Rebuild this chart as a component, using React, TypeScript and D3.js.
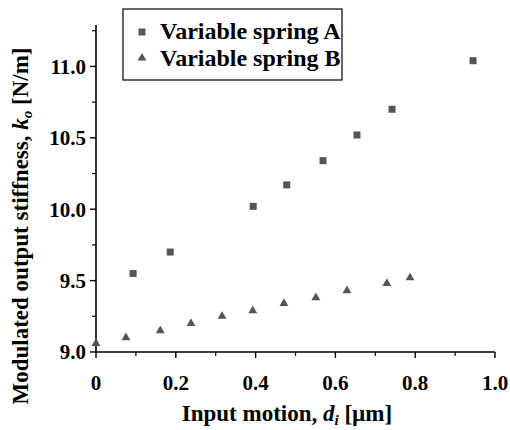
import React from "react";
import * as d3 from "d3";

const seriesNames = ["Variable spring A", "Variable spring B"];
const springAX = [0.093, 0.186, 0.394, 0.478, 0.569, 0.654, 0.742, 0.945];
const springAY = [9.55, 9.70, 10.02, 10.17, 10.34, 10.52, 10.70, 11.04];
const springBX = [0.0, 0.075, 0.161, 0.238, 0.316, 0.393, 0.471, 0.551, 0.629, 0.729, 0.787];
const springBY = [9.06, 9.10, 9.15, 9.20, 9.25, 9.29, 9.34, 9.38, 9.43, 9.48, 9.52];
const xTicks = [0, 0.2, 0.4, 0.6, 0.8, 1.0];
const xTickLabels = ["0", "0.2", "0.4", "0.6", "0.8", "1.0"];
const xMinor = [0.1, 0.3, 0.5, 0.7, 0.9];
const yTicks = [9.0, 9.5, 10.0, 10.5, 11.0];
const yTickLabels = ["9.0", "9.5", "10.0", "10.5", "11.0"];
const yMinor = [9.25, 9.75, 10.25, 10.75, 11.25];

const TXT = { fontFamily: '"Liberation Serif"' };

export default function App() {
  const x = d3.scaleLinear().domain([0, 1]).range([96, 495]);
  const y = d3.scaleLinear().domain([9, 11.29]).range([352, 25]);
  const markFill = "#555";
  const tri = d3.symbol().type(d3.symbolTriangle).size(34)();
  const sq = 7;

  return (
    <svg width={510} height={430} style={{ position: "absolute", left: 0, top: 0, background: "#fff" }}>
      {/* axes */}
      <line x1={x(0)} x2={x(0)} y1={y(11.29)} y2={y(9)} stroke="#000" strokeWidth={1.6} />
      <line x1={x(0)} x2={x(1)} y1={y(9)} y2={y(9)} stroke="#000" strokeWidth={1.6} />
      {yTicks.map((t, i) => (
        <g key={"yt" + i}>
          <line x1={x(0) - 6} x2={x(0)} y1={y(t)} y2={y(t)} stroke="#000" strokeWidth={1.4} />
          <text x={x(0) - 10} y={y(t)} dy="0.35em" textAnchor="end" fontSize={21} fontWeight="bold" style={TXT}>
            {yTickLabels[i]}
          </text>
        </g>
      ))}
      {yMinor.map((t, i) => (
        <line key={"ym" + i} x1={x(0) - 4} x2={x(0)} y1={y(t)} y2={y(t)} stroke="#000" strokeWidth={1.2} />
      ))}
      {xTicks.map((t, i) => (
        <g key={"xt" + i}>
          <line x1={x(t)} x2={x(t)} y1={y(9)} y2={y(9) + 6} stroke="#000" strokeWidth={1.4} />
          <text x={x(t)} y={390} textAnchor="middle" fontSize={21} fontWeight="bold" style={TXT}>
            {xTickLabels[i]}
          </text>
        </g>
      ))}
      {xMinor.map((t, i) => (
        <line key={"xm" + i} x1={x(t)} x2={x(t)} y1={y(9)} y2={y(9) + 4} stroke="#000" strokeWidth={1.2} />
      ))}

      {/* axis titles */}
      <text x={287} y={421} textAnchor="middle" fontSize={23} fontWeight="bold" style={TXT}>
        Input motion, <tspan fontStyle="italic">d</tspan>
        <tspan fontStyle="italic" fontSize={15} dy={4}>i</tspan>
        <tspan dy={-4}> [µm]</tspan>
      </text>
      <text transform="translate(28,226) rotate(-90)" textAnchor="middle" fontSize={23} fontWeight="bold" style={TXT}>
        Modulated output stiffness, <tspan fontStyle="italic">k</tspan>
        <tspan fontStyle="italic" fontSize={15} dy={4}>o</tspan>
        <tspan dy={-4}> [N/m]</tspan>
      </text>

      {/* data */}
      {springAX.map((v, i) => (
        <rect
          key={"a" + i}
          x={x(v) - sq / 2}
          y={y(springAY[i]) - sq / 2}
          width={sq}
          height={sq}
          fill={markFill}
        />
      ))}
      {springBX.map((v, i) => (
        <path key={"b" + i} d={tri!} transform={`translate(${x(v)},${y(springBY[i])})`} fill={markFill} />
      ))}

      {/* legend */}
      <rect x={123} y={9} width={219} height={71} fill="#fff" stroke="#000" strokeWidth={1.2} />
      <rect x={142 - sq / 2} y={32 - sq / 2} width={sq} height={sq} fill={markFill} />
      <path d={tri!} transform="translate(142,58)" fill={markFill} />
      <text x={160} y={39} fontSize={24} fontWeight="bold" style={TXT}>{seriesNames[0]}</text>
      <text x={160} y={66} fontSize={24} fontWeight="bold" style={TXT}>{seriesNames[1]}</text>
    </svg>
  );
}
